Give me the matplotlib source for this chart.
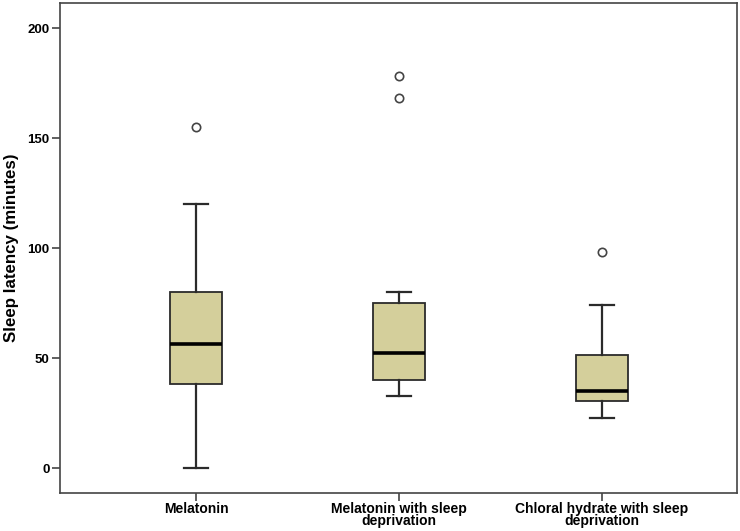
import matplotlib.pyplot as plt

# values (minutes)
groups = ["Melatonin", "Melatonin with sleep\ndeprivation",
          "Chloral hydrate with sleep\ndeprivation"]
whisker_low = [0, 33, 23]
q1 = [38.2, 40, 30.5]
median = [56.5, 52.5, 35]
q3 = [80, 75, 51.4]
whisker_high = [120, 80, 74]
outliers = [[155.3], [168.2, 178.3], [98.3]]

plt.rcParams['font.family'] = ['Liberation Sans', 'DejaVu Sans']
plt.rcParams['font.weight'] = 'bold'

fig = plt.figure(figsize=(7.4, 5.31), dpi=100)
ax = fig.add_axes([0.081, 0.072, 0.915, 0.923])

stats = []
for i, g in enumerate(groups):
    stats.append({
        "label": g,
        "whislo": whisker_low[i],
        "q1": q1[i],
        "med": median[i],
        "q3": q3[i],
        "whishi": whisker_high[i],
        "fliers": outliers[i],
    })

edge = "#2b2b2b"
ax.bxp(stats, positions=[1, 2, 3], widths=0.255, patch_artist=True,
       showfliers=True,
       boxprops=dict(facecolor="#d4cf9b", edgecolor=edge, linewidth=1.3),
       medianprops=dict(color="black", linewidth=2.6),
       whiskerprops=dict(color=edge, linewidth=1.6),
       capprops=dict(color=edge, linewidth=1.6),
       capwidths=0.12,
       flierprops=dict(marker="o", markerfacecolor="white",
                       markeredgecolor="#444444", markersize=6,
                       markeredgewidth=1.2))

ax.set_xlim(0.33, 3.665)
ax.set_ylim(-11.1, 211.6)
ax.set_yticks([0, 50, 100, 150, 200])
ax.set_ylabel("Sleep latency (minutes)", fontsize=12.2, fontweight="bold",
              labelpad=6)
ax.tick_params(axis="both", direction="out", length=6,
               width=1.2, color="#444444", pad=1.5)
ax.tick_params(axis="x", labelsize=10, pad=0.5)
ax.tick_params(axis="y", labelsize=9.5)
for lab in ax.get_xticklabels():
    lab.set_linespacing(0.88)
for sp in ax.spines.values():
    sp.set_color("#444444")
    sp.set_linewidth(1.2)

plt.savefig("out.png", dpi=100)
